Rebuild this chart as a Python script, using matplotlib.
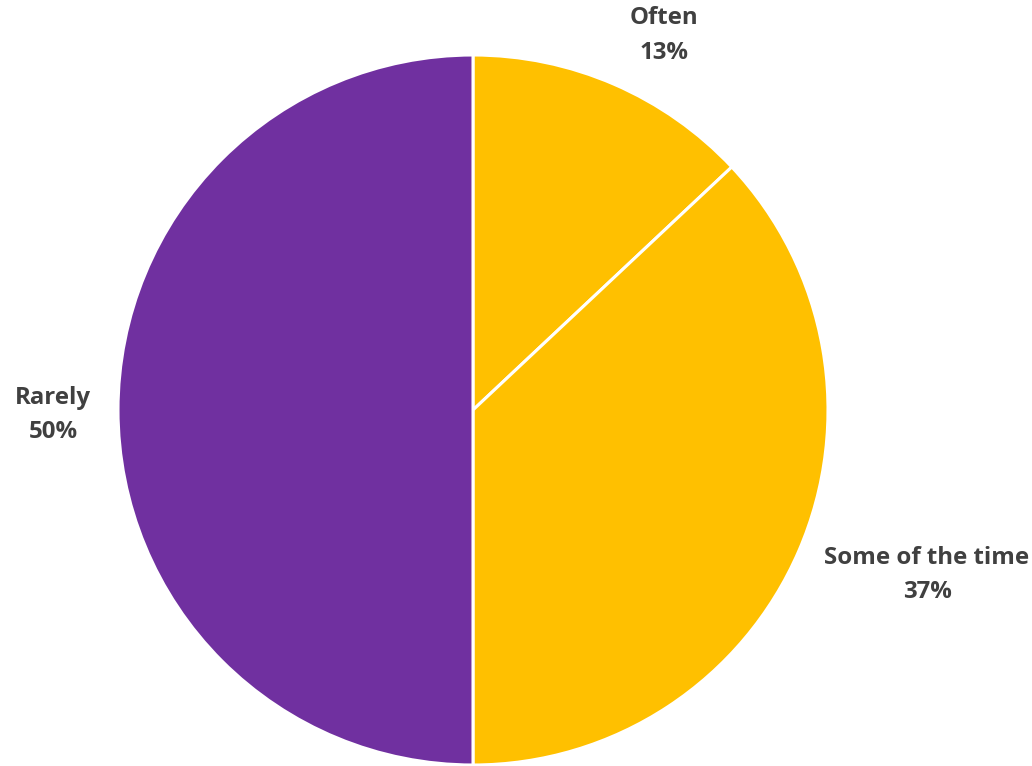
import matplotlib.pyplot as plt

# Survey response shares
categories = ['Often', 'Some of the time', 'Rarely']
shares = [13, 37, 50]
colors = ['#FFC000', '#FFC000', '#7030A0']

# label anchor points (data units, pie radius = 1)
label_pos = [(0.538, 1.056), (1.279, -0.465), (-1.183, -0.014)]

fig = plt.figure(figsize=(10.32, 7.66), dpi=100)
ax = fig.add_axes([0, 0, 1, 1])

ax.pie(shares, colors=colors, startangle=90, counterclock=False,
       radius=1.0, center=(0, 0),
       wedgeprops=dict(edgecolor='white', linewidth=2.2))

for name, val, (x, y) in zip(categories, shares, label_pos):
    ax.text(x, y, f'{name}\n{val}%', ha='center', va='center',
            fontsize=17.3, fontweight='bold', family='Open Sans',
            color='#404040', linespacing=1.6)

ax.set_xlim(-473 / 355, 559 / 355)
ax.set_ylim(-356 / 355, 410 / 355)
ax.set_aspect('equal')
ax.axis('off')

fig.savefig('out.png', dpi=100)
